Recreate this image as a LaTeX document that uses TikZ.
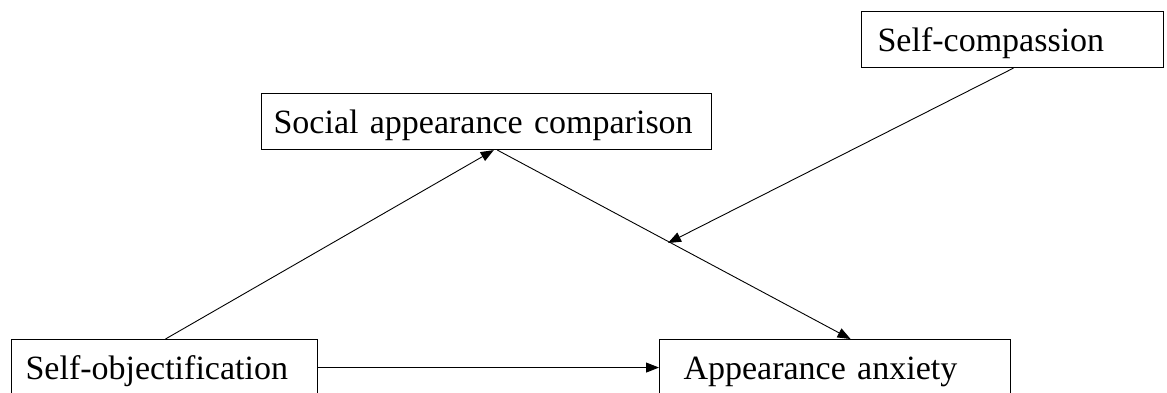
\documentclass[tikz,border=0pt]{standalone}
\usepackage{fontspec}
\setmainfont{Liberation Serif}
\usetikzlibrary{arrows.meta,calc}
\begin{document}
\begin{tikzpicture}[x=1pt,y=-1pt,
  box/.style={draw, line width=1.1pt, anchor=north west, inner ysep=0pt,
    minimum height=56pt, text height=40pt, text depth=16pt, align=left,
    font=\fontsize{34}{40}\selectfont},
  arr/.style={line width=0.9pt, -{Triangle[length=13pt,width=10pt]}}]
\useasboundingbox (0,0) rectangle (1167,392);
\clip (0,0) rectangle (1167,392);
\node[box, minimum width=306pt, inner xsep=14pt, text width=278pt] (so) at (11,339) {\mbox{Self-objectification}};
\node[box, minimum width=351pt, inner xsep=24pt, text width=303pt] (aa) at (659,339) {\mbox{Appearance anxiety}};
\node[box, minimum width=450pt, inner xsep=12pt, text width=426pt] (sac) at (261,93) {\mbox{Social appearance comparison}};
\node[box, minimum width=302pt, inner xsep=16pt, text width=270pt] (sc) at (861,11) {\mbox{Self-compassion}};
\coordinate (m) at (668,243);
\draw[arr] ($(so.north west)!0.503!(so.north east)$) -- ($(sac.south west)!0.516!(sac.south east)$);
\draw[arr] ($(sac.south west)!0.524!(sac.south east)$) -- ($(aa.north west)!0.544!(aa.north east)$);
\draw[arr] (so.east) -- (aa.west);
\draw[arr] ($(sc.south west)!0.503!(sc.south east)$) -- (m);
\end{tikzpicture}
\end{document}
